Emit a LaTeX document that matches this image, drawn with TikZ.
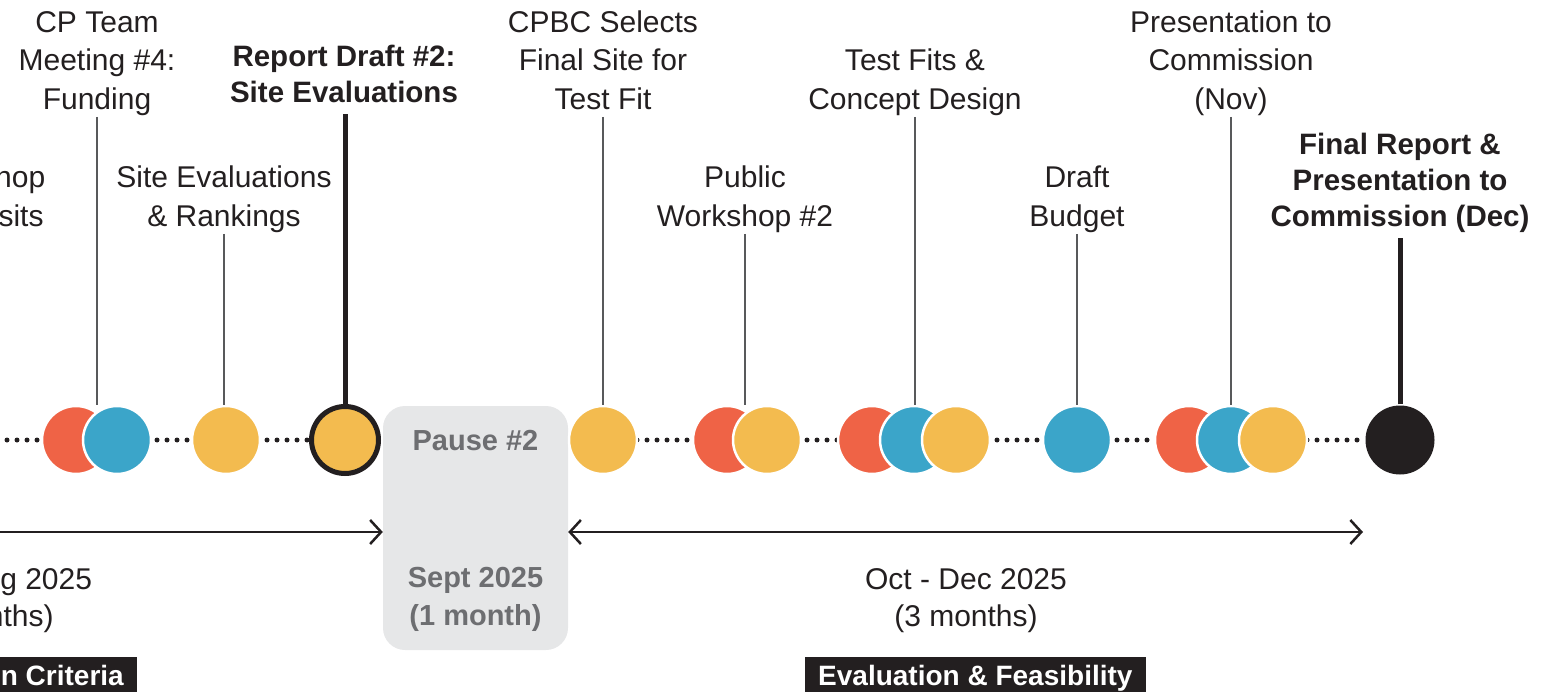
\documentclass[tikz,border=0pt]{standalone}
\usepackage{fontspec}
\setmainfont{Liberation Sans}
\usepackage{tikz}
\usetikzlibrary{arrows.meta, positioning}
\definecolor{tlred}{HTML}{EF6346}
\definecolor{tlblue}{HTML}{3BA5C9}
\definecolor{tlyellow}{HTML}{F3BB4F}
\definecolor{tlblack}{HTML}{231F20}
\definecolor{tlgray}{HTML}{E6E7E8}
\definecolor{tltext}{HTML}{6D6E71}
\definecolor{tlstem}{HTML}{58595B}
\tikzset {
    every node/.style={inner sep=0pt, align=center, text=tlblack,
        font=\fontsize{30}{38.5}\selectfont},
    lbl/.style={anchor=south},
    boldlbl/.style={anchor=south, font=\fontsize{29.5}{36}\selectfont\bfseries},
    datelbl/.style={anchor=south, font=\fontsize{30}{37}\selectfont},
    event/.style={circle, minimum size=68pt, draw=white, line width=2.5pt},
    milestone/.style={event, draw=tlblack, line width=5pt, minimum size=67pt},
    stem/.style={draw=tlstem, line width=1.5pt, shorten <=-4pt},
    boldstem/.style={draw=tlblack, line width=5pt},
    track/.style={draw=tlblack, line width=5pt, line cap=round, dash pattern=on 0pt off 10pt},
    span/.style={draw=tlblack, line width=2.5pt},
    pausebox/.style={fill=tlgray, rounded corners=22pt, minimum width=185pt, minimum height=244pt},
    pausetext/.style={anchor=south, text=tltext, font=\fontsize{29}{38}\selectfont\bfseries},
    phase/.style={fill=tlblack, text=white, inner xsep=13pt, inner ysep=8pt,
        text height=20pt, text depth=8pt, font=\fontsize{28}{34}\selectfont\bfseries}
}

\begin{document}
\begin{tikzpicture}[x=1pt, y=-1pt, >={Straight Barb[length=11pt,width=24pt]}]
\useasboundingbox (0,0) rectangle (1547,692);
\begin{scope}
\clip (0,0) rectangle (1547,692);

\draw[track] (7,440) -- (1366,440);

\node[pausebox] (pause) at (475.5,528) {};
\node[pausetext] (pausename) at (475.5,462) {Pause \#2\strut};
\node[pausetext] (pausedate) at (475.5,637) {Sept 2025\\(1 month)\strut};

\node[lbl, overlay] (l0) at (-22,238) {Workshop\\Site Visits\strut};
\node[lbl] (l1) at (97,121) {CP Team\\Meeting \#4:\\Funding\strut};
\node[lbl] (l2) at (224,238) {Site Evaluations\\\& Rankings\strut};
\node[boldlbl] (l3) at (344,114) {Report Draft \#2:\\Site Evaluations\strut};
\node[lbl] (l4) at (603,121) {CPBC Selects\\Final Site for\\Test Fit\strut};
\node[lbl] (l5) at (745,238) {Public\\Workshop \#2\strut};
\node[lbl] (l6) at (915,121) {Test Fits \&\\Concept Design\strut};
\node[lbl] (l7) at (1077,238) {Draft\\Budget\strut};
\node[lbl] (l8) at (1231,121) {Presentation to\\Commission\\(Nov)\strut};
\node[boldlbl] (l9) at (1400,238) {Final Report \&\\Presentation to\\Commission (Dec)\strut};

\node[event, fill=tlred] (e1a) at (76,440) {};
\node[event, fill=tlblue] (e1b) at (117,440) {};
\node[event, fill=tlyellow] (e2) at (226,440) {};
\node[event, fill=tlyellow] (e4) at (603,440) {};
\node[event, fill=tlred] (e5a) at (727,440) {};
\node[event, fill=tlyellow] (e5b) at (767,440) {};
\node[event, fill=tlred] (e6a) at (872,440) {};
\node[event, fill=tlblue] (e6b) at (914,440) {};
\node[event, fill=tlyellow] (e6c) at (956,440) {};
\node[event, fill=tlblue] (e7) at (1077,440) {};
\node[event, fill=tlred] (e8a) at (1189,440) {};
\node[event, fill=tlblue] (e8b) at (1231,440) {};
\node[event, fill=tlyellow] (e8c) at (1273,440) {};
\node[milestone, fill=tlyellow] (e3) at (345,440) {};
\node[event, fill=tlblack, draw=none, minimum size=69pt] (e9) at (1400,440) {};

\draw[stem] (l1.south) -- (l1.south |- e1b.north);
\draw[stem] (l2.south) -- (l2.south |- e2.north);
\draw[boldstem] (e3.north) -- (e3.north |- l3.south);
\draw[stem] (l4.south) -- (e4.north);
\draw[stem] (l5.south) -- (l5.south |- e5b.north);
\draw[stem] (l6.south) -- (l6.south |- e6b.north);
\draw[stem] (l7.south) -- (e7.north);
\draw[stem] (l8.south) -- (e8b.north);
\draw[boldstem] (e9.north) -- (e9.north |- l9.south);

\coordinate (spanstart) at (-20,532);
\coordinate (spanend) at (1363,532);
\draw[span, ->, overlay] (spanstart) -- (spanstart -| pause.west);
\draw[span, <->] (spanend -| pause.east) -- (spanend);

\node[datelbl, overlay] (d1) at (-18,638) {June - Aug 2025\\(3 months)\strut};
\node[datelbl] (d3) at (966,638) {Oct - Dec 2025\\(3 months)\strut};

\node[phase, anchor=north east, overlay] (ph1) at (137,657) {Site Selection Criteria};
\node[phase, anchor=north west, overlay] (ph3) at (805,657) {Evaluation \& Feasibility};
\end{scope}
\end{tikzpicture}
\end{document}
